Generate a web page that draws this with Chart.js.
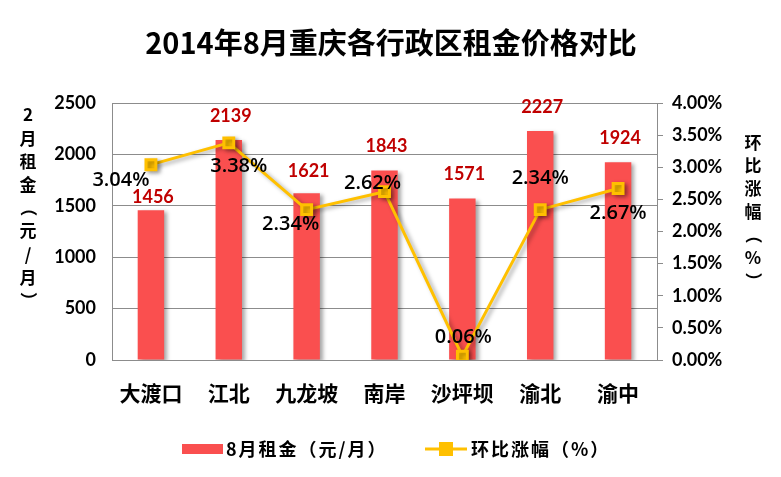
<!DOCTYPE html>
<html>
<head>
<meta charset="utf-8">
<script src="https://cdn.jsdelivr.net/npm/chart.js@4.4.0/dist/chart.umd.min.js"></script>
<style>
  html,body{margin:0;padding:0;background:#fff;}
  #wrap{width:781px;height:477px;position:relative;}
</style>
</head>
<body>
<div id="wrap"><canvas id="c" width="781" height="477"></canvas></div>
<script>
const districts = ['大渡口','江北','九龙坡','南岸','沙坪坝','渝北','渝中'];
const rent = [1456, 2139, 1621, 1843, 1571, 2227, 1924];
const growth = [3.04, 3.38, 2.34, 2.62, 0.06, 2.34, 2.67];
const rentTicks = [0, 500, 1000, 1500, 2000, 2500];
const growthTicks = [0, 0.5, 1, 1.5, 2, 2.5, 3, 3.5, 4];

const chartTitle = '2014年8月重庆各行政区租金价格对比';
const leftTitle = ['2','月','租','金','（','元','/','月','）'];
const rightTitle = ['环','比','涨','幅','（','%','）'];
const rentName = '8月租金（元/月）';
const growthName = '环比涨幅（%）';

const RED = '#fa4f4f';
const GOLD = '#ffc000';
const NUM_FONT = 'Lato, "Noto Sans CJK SC", sans-serif';
const CJK_FONT = '"Noto Sans CJK SC", sans-serif';

// label offsets (dx, dy) relative to each line point
const growthLabelPos = [[-30,16],[10,23],[-16,15],[-12,-8],[1,-19],[0,-31],[0,25]];
// bar label offsets from the bar top
const rentLabelPos = [-13,-24,-22,-24,-24,-24,-24];

const shadowPlugin = {
  id:'shadow',
  beforeDatasetDraw(chart,args){
    const ctx=chart.ctx;
    ctx.save();
    ctx.shadowColor='rgba(0,0,0,0.35)';
    ctx.shadowBlur=4;
    ctx.shadowOffsetX=3;
    ctx.shadowOffsetY=2;
  },
  afterDatasetDraw(chart){ chart.ctx.restore(); }
};

function stackText(ctx, chars, x, y0, step){
  chars.forEach((ch,i)=>{
    const y=y0+i*step;
    if(ch==='（'||ch==='）'){
      ctx.save();
      ctx.translate(x,y);
      ctx.rotate(Math.PI/2);
      ctx.fillText(ch,0,0);
      ctx.restore();
    } else ctx.fillText(ch,x,y);
  });
}

const decorPlugin = {
  id:'decor',
  afterDraw(chart){
    const ctx=chart.ctx;
    ctx.save();
    // title
    ctx.fillStyle='#000';
    ctx.textAlign='center';
    ctx.textBaseline='middle';
    ctx.font='bold 29px '+CJK_FONT;
    ctx.fillText(chartTitle, 391, 43);

    // vertical axis titles
    ctx.font='bold 17px '+CJK_FONT;
    stackText(ctx, leftTitle, 28, 115, 23.2);
    stackText(ctx, rightTitle, 753, 143, 23);

    // bar value labels
    const barMeta=chart.getDatasetMeta(1);
    ctx.font='bold 18px '+NUM_FONT;
    ctx.fillStyle='#c00000';
    barMeta.data.forEach((el,i)=>{
      ctx.fillText(String(rent[i]), el.x+2, el.y+rentLabelPos[i]);
    });

    // line value labels
    const lineMeta=chart.getDatasetMeta(0);
    ctx.font='600 20px "Open Sans", sans-serif';
    ctx.fillStyle='#000';
    lineMeta.data.forEach((el,i)=>{
      const p=growthLabelPos[i];
      ctx.fillText(growth[i].toFixed(2)+'%', el.x+p[0], el.y+p[1]);
    });

    // legend
    const ly=449;
    ctx.fillStyle=RED;
    ctx.fillRect(182,444,41,10);
    ctx.fillStyle='#000';
    ctx.textAlign='left';
    ctx.font='bold 18px '+CJK_FONT;
    ctx.letterSpacing='2px';
    ctx.fillText(rentName, 226, ly);
    ctx.strokeStyle=GOLD;
    ctx.lineWidth=3;
    ctx.beginPath(); ctx.moveTo(425,ly); ctx.lineTo(467,ly); ctx.stroke();
    ctx.fillStyle=GOLD;
    ctx.fillRect(439,442,14,14);
    ctx.fillStyle='#000';
    ctx.fillText(growthName, 471, ly);
    ctx.restore();
  }
};

new Chart(document.getElementById('c'),{
  type:'bar',
  data:{
    labels:districts,
    datasets:[
      {type:'line',label:growthName,data:growth,yAxisID:'y1',order:0,
       borderColor:GOLD,backgroundColor:GOLD,borderWidth:3,
       pointStyle:'rect',pointRadius:7,pointHoverRadius:7,tension:0},
      {type:'bar',label:rentName,data:rent,yAxisID:'y',order:1,
       backgroundColor:RED,categoryPercentage:1,barPercentage:0.34}
    ]
  },
  options:{
    responsive:false,
    animation:false,
    events:[],
    layout:{padding:{top:103,left:0,right:0,bottom:0}},
    plugins:{legend:{display:false},tooltip:{enabled:false},title:{display:false}},
    scales:{
      x:{
        grid:{display:false},
        border:{display:false},
        ticks:{color:'#000',font:{family:CJK_FONT,size:21,weight:'bold'},padding:12},
        afterFit(s){ s.height=117; }
      },
      y:{
        position:'left',min:0,max:2500,
        afterBuildTicks(s){ s.ticks=rentTicks.map(v=>({value:v})); },
        grid:{color:'#8c8c8c',lineWidth:1,drawTicks:false},
        border:{display:true,color:'#8c8c8c'},
        ticks:{color:'#000',font:{family:NUM_FONT,size:18,weight:'bold'},padding:16,
               callback:v=>String(v)},
        afterFit(s){ s.width=112; }
      },
      y1:{
        position:'right',min:0,max:4,
        afterBuildTicks(s){ s.ticks=growthTicks.map(v=>({value:v})); },
        grid:{drawOnChartArea:false,color:'#8c8c8c',tickLength:6},
        border:{display:true,color:'#8c8c8c'},
        ticks:{color:'#000',font:{family:NUM_FONT,size:18,weight:'bold'},padding:9,
               callback:v=>v.toFixed(2)+'%'},
        afterFit(s){ s.width=124; }
      }
    }
  },
  plugins:[shadowPlugin,decorPlugin]
});
</script>
</body>
</html>
